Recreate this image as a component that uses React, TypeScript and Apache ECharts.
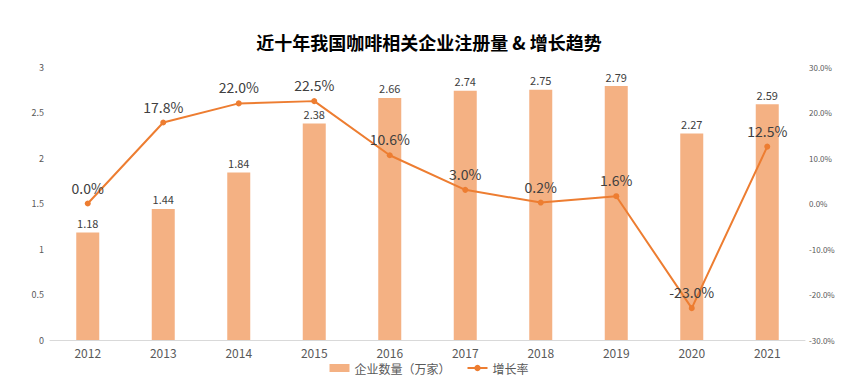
import React, { useEffect, useRef } from "react";
import * as echarts from "echarts";

const categories = ["2012", "2013", "2014", "2015", "2016", "2017", "2018", "2019", "2020", "2021"];
const companyCounts = [1.18, 1.44, 1.84, 2.38, 2.66, 2.74, 2.75, 2.79, 2.27, 2.59];
const growthRates = [0.0, 17.8, 22.0, 22.5, 10.6, 3.0, 0.2, 1.6, -23.0, 12.5];

const FONT = "'Noto Sans CJK SC', 'Noto Sans', sans-serif";

export default function App() {
  const ref = useRef<HTMLDivElement>(null);
  useEffect(() => {
    if (!ref.current) return;
    const chart = echarts.init(ref.current, undefined, { renderer: "svg" });
    chart.setOption({
      animation: false,
      textStyle: { fontFamily: FONT },
      title: {
        text: "近十年我国咖啡相关企业注册量 & 增长趋势",
        left: "center",
        top: 20,
        textStyle: { fontSize: 18, fontWeight: "bold", color: "#000", fontFamily: FONT },
      },
      legend: {
        bottom: 9,
        left: "center",
        itemWidth: 20,
        itemHeight: 8,
        itemGap: 16,
        textStyle: { fontSize: 12, color: "#595959", fontFamily: FONT },
        data: [
          { name: "企业数量（万家）", icon: "rect" },
          { name: "增长率" },
        ],
      },
      grid: { left: 42, right: 45, top: 59, bottom: 48, containLabel: false },
      xAxis: {
        type: "category",
        data: categories,
        axisLine: { lineStyle: { color: "#D9D9D9" } },
        axisTick: { show: false },
        axisLabel: { color: "#595959", fontSize: 12, margin: 6 },
      },
      yAxis: [
        {
          type: "value",
          min: 0,
          max: 3,
          interval: 0.5,
          splitLine: { show: false },
          axisLine: { show: false },
          axisTick: { show: false },
          axisLabel: { color: "#595959", fontSize: 9, margin: 6 },
        },
        {
          type: "value",
          min: -30,
          max: 30,
          interval: 10,
          splitLine: { show: false },
          axisLine: { show: false },
          axisTick: { show: false },
          axisLabel: {
            color: "#595959",
            fontSize: 8,
            margin: 4,
            formatter: (v: number) => v.toFixed(1) + "%",
          },
        },
      ],
      series: [
        {
          name: "企业数量（万家）",
          type: "bar",
          data: companyCounts,
          barWidth: 23,
          itemStyle: { color: "#F4B183" },
          label: {
            show: true,
            position: "top",
            color: "#404040",
            fontSize: 11,
            distance: 4,
            formatter: (p: any) => p.value.toFixed(2).replace(/0$/, "").replace(/\.$/, ""),
          },
        },
        {
          name: "增长率",
          type: "line",
          yAxisIndex: 1,
          data: growthRates,
          symbol: "circle",
          symbolSize: 6,
          lineStyle: { color: "#ED7D31", width: 2 },
          itemStyle: { color: "#ED7D31" },
          label: {
            show: true,
            position: "top",
            color: "#404040",
            fontSize: 14,
            distance: 6,
            formatter: (p: any) => p.value.toFixed(1) + "%",
          },
        },
      ],
    });
    return () => chart.dispose();
  }, []);
  return <div ref={ref} style={{ width: 842, height: 380 }} />;
}
